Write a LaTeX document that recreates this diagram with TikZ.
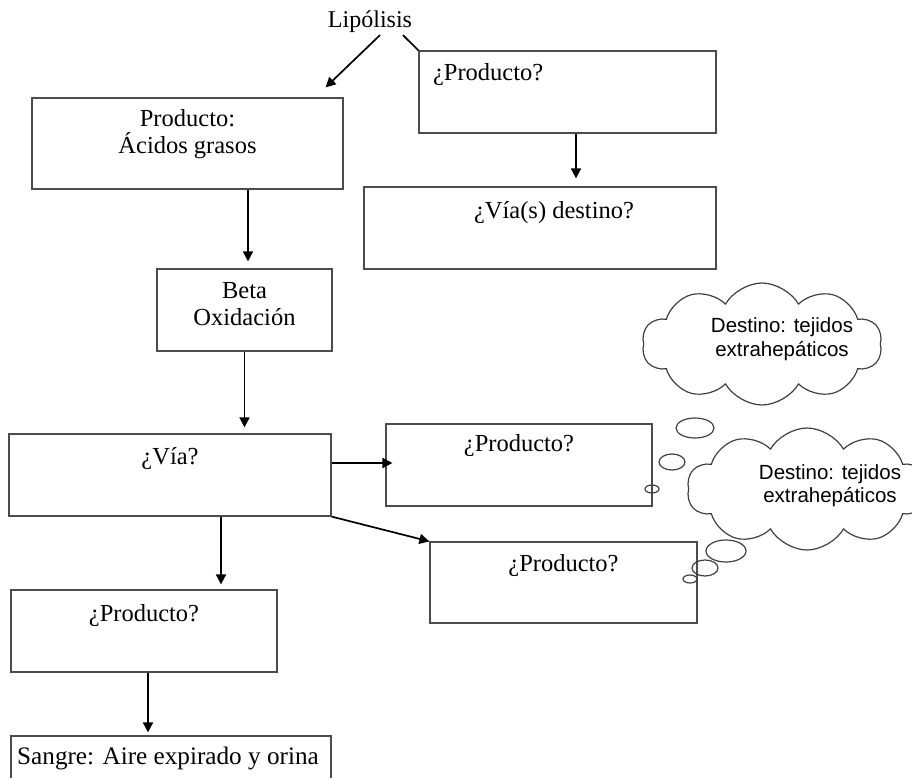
\documentclass[tikz,border=0pt]{standalone}
\usepackage{fontspec}
\setmainfont{Liberation Serif}
\newfontfamily\sansnube{Liberation Sans}
\usetikzlibrary{arrows.meta,shapes.symbols}
\usetikzlibrary{calc,positioning}

\tikzset{
  caja/.style={draw=black!70, line width=1.2pt, inner sep=0pt, align=center,
    font=\fontsize{24.5}{27}\selectfont},
  flecha/.style={-{Triangle[length=10pt,width=10pt]}, line width=1.7pt},
  linea/.style={line width=1.7pt},
  nube/.style={cloud, draw=black!75, line width=1.2pt, cloud puffs=10,
    cloud puff arc=120, aspect=2, minimum width=240pt, minimum height=122pt, inner sep=0pt},
  textonube/.style={font=\sansnube\fontsize{20.5}{23.5}\selectfont, align=center},
  burbuja/.style={draw=black!75, line width=1.2pt}
}

\begin{document}
\begin{tikzpicture}[x=1pt,y=1pt,on grid]
  \useasboundingbox (0,0) rectangle (912,-778);
  \clip (0,0) rectangle (912,-778);

  \node[font=\fontsize{24}{27}\selectfont,inner sep=2pt] (lipo) at (370,-22) {Lipólisis};
  \node[caja,minimum width=311pt,text height=56pt,text depth=35pt] (acidos) [below left=121.5pt and 182.5pt of lipo] {Producto:\\Ácidos grasos};
  \node[caja,text width=269pt,inner xsep=14pt,align=left,text height=30pt,text depth=52pt] (prodA) [below right=70pt and 197.5pt of lipo] {¿Producto?};
  \node[caja,minimum width=352pt,text height=31pt,text depth=51pt] (vias) [below left=136pt and 27.5pt of prodA] {\hspace*{28pt}¿Vía(s) destino?};
  \node[caja,minimum width=175pt,text height=56pt,text depth=26pt] (beta) [below right=166.5pt and 57pt of acidos] {Beta\\Oxidación};
  \node[caja,minimum width=322pt,text height=30pt,text depth=52pt] (via) [below left=165pt and 74.5pt of beta] {¿Vía?};
  \node[caja,minimum width=266pt,text height=27pt,text depth=55pt] (prodB) [above right=10pt and 349pt of via] {¿Producto?};
  \node[caja,minimum width=267pt,text height=29pt,text depth=52pt] (prodC) [below right=107.5pt and 393.5pt of via] {¿Producto?};
  \node[caja,minimum width=266pt,text height=31pt,text depth=51pt] (prodD) [below left=156pt and 26pt of via] {¿Producto?};
  \node[caja,minimum width=320pt,text height=28pt,text depth=54pt,font=\fontsize{25.2}{28}\selectfont] (sangre) [below right=146pt and 27pt of prodD] {Sangre: Aire expirado y orina\hspace*{6pt}};

  \node[nube] (nube1) [above right=121pt and 243pt of prodB] {};
  \node[nube] (nube2) [below right=24pt and 288pt of prodB] {};
  \node[textonube] (t1) [above right=5pt and 20pt of nube1] {Destino: tejidos\\extrahepáticos};
  \node[textonube] (t2) [above right=3.5pt and 23pt of nube2] {Destino: tejidos\\extrahepáticos};
  \foreach \cx/\cy/\rx/\ry in {695/428/19/10, 672/462/13/8, 652/489/7/4, 726/551/20/11, 705/568/13/8, 690/579/7/4}
    \draw[burbuja] (\cx,-\cy) ellipse [x radius=\rx, y radius=\ry];

  \draw[flecha] ([xshift=10pt]lipo.south) -- ([xshift=-18pt,yshift=10pt]acidos.north east);
  \draw[linea] ([xshift=33pt]lipo.south) -- (prodA.north west);
  \draw[flecha,shorten >=8pt] ([xshift=8.5pt]prodA.south) -- ([xshift=8.5pt]prodA.south |- vias.north);
  \draw[flecha,shorten >=7pt] ([xshift=60.5pt]acidos.south) -- ([xshift=60.5pt]acidos.south |- beta.north);
  \draw[flecha,shorten >=6pt] (beta.south) -- (beta.south |- via.north);
  \draw[flecha,shorten >=5pt] ([xshift=51pt]via.south) -- ([xshift=51pt]via.south |- prodD.north);
  \draw[flecha,shorten >=3pt] ([xshift=4pt]prodD.south) -- ([xshift=4pt]prodD.south |- sangre.north);
  \draw[flecha,shorten >=-7pt] ([yshift=12pt]via.east) -- ([yshift=12pt]via.east -| prodB.west);
  \draw[flecha] (via.south east) -- (prodC.north west);
\end{tikzpicture}
\end{document}
